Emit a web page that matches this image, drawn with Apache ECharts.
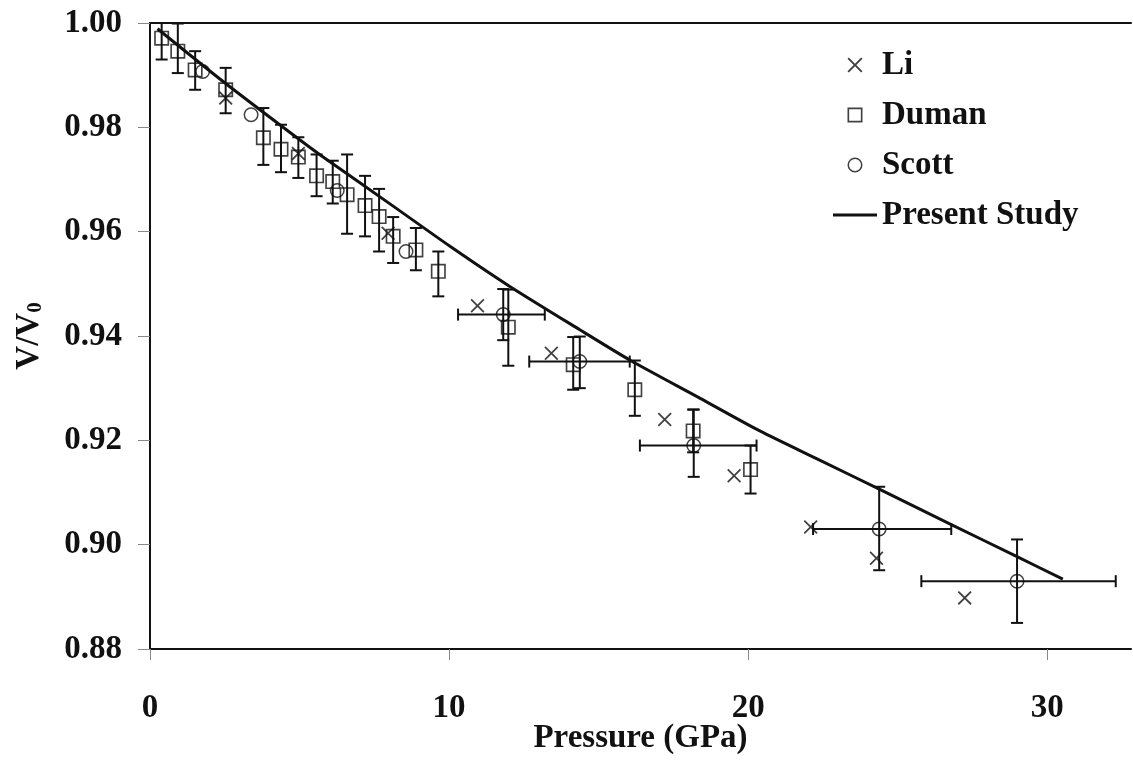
<!DOCTYPE html>
<html>
<head>
<meta charset="utf-8">
<title>V/V0 vs Pressure</title>
<script src="https://cdn.jsdelivr.net/npm/echarts@6/dist/echarts.min.js"></script>
<style>
  html, body { margin: 0; padding: 0; background: #fff; }
  #chart { width: 1133px; height: 776px; }
</style>
</head>
<body>
<div id="chart"></div>
<script>
// Li: pressure (GPa) and V/V0
const liP = [2.53, 4.96, 7.96, 10.95, 13.42, 17.21, 19.53, 22.09, 24.29, 27.24];
const liV = [0.9856, 0.9750, 0.9597, 0.9458, 0.9367, 0.9240, 0.9132, 0.9034, 0.8974, 0.8898];

// Duman: pressure, V/V0 and the lower / upper ends of each V/V0 error bar
const dumanP  = [0.39, 0.93, 1.51, 2.53, 3.79, 4.38, 4.96, 5.57, 6.11, 6.59, 7.19, 7.66, 8.13, 8.89, 9.64, 11.98, 14.15, 16.21, 18.16, 20.08];
const dumanV  = [0.9971, 0.9946, 0.9910, 0.9872, 0.9780, 0.9758, 0.9743, 0.9707, 0.9696, 0.9671, 0.9650, 0.9629, 0.9591, 0.9565, 0.9524, 0.9417, 0.9345, 0.9297, 0.9218, 0.9144];
const dumanLo = [0.9930, 0.9904, 0.9872, 0.9827, 0.9728, 0.9714, 0.9703, 0.9668, 0.9654, 0.9596, 0.9591, 0.9562, 0.9540, 0.9526, 0.9476, 0.9343, 0.9297, 0.9247, 0.9177, 0.9098];
const dumanHi = [1.0000, 0.9999, 0.9946, 0.9914, 0.9837, 0.9805, 0.9781, 0.9748, 0.9736, 0.9748, 0.9707, 0.9682, 0.9628, 0.9607, 0.9562, 0.9489, 0.9398, 0.9353, 0.9259, 0.9190];

// Scott: pressure, V/V0; error ranges only where measured (null = none)
const scottP    = [1.76, 3.38, 6.26, 8.56, 11.81, 14.37, 18.18, 24.38, 28.99];
const scottV    = [0.9907, 0.9824, 0.9679, 0.9562, 0.9441, 0.9351, 0.9190, 0.9030, 0.8930];
const scottPLo  = [null, null, null, null, 10.30, 12.68, 16.38, 22.17, 25.79];
const scottPHi  = [null, null, null, null, 13.20, 16.04, 20.28, 26.79, 32.29];
const scottVLo  = [null, null, null, null, 0.9392, 0.9300, 0.9130, 0.8951, 0.8850];
const scottVHi  = [null, null, null, null, 0.9490, 0.9399, 0.9259, 0.9111, 0.9010];

// Present study: computed compression curve
const studyP = [0.25, 2.53, 4.96, 5.74, 8.13, 10.03, 12.03, 14.37, 16.04, 18.38, 20.39, 22.39, 24.40, 26.74, 28.99, 30.52];
const studyV = [0.9989, 0.9884, 0.9778, 0.9745, 0.9649, 0.9572, 0.9495, 0.9412, 0.9354, 0.9281, 0.9218, 0.9162, 0.9106, 0.9040, 0.8977, 0.8934];

// Axis ticks
const xTicks = [0, 10, 20, 30];
const yTicks = [0.88, 0.90, 0.92, 0.94, 0.96, 0.98, 1.00];

const FONT = '"Liberation Serif", "Times New Roman", serif';
const INK = '#111';

const zip = (a, b) => a.map((v, i) => [v, b[i]]);

// Symbols drawn as filled outlines so they keep their shape in the legend
const SYM_CROSS = 'path://M0,9L9,0L50,41L91,0L100,9L59,50L100,91L91,100L50,59L9,100L0,91L41,50Z';
const SYM_SQUARE = 'path://M0,0H100V100H0Z M11,11V89H89V11Z';
const SYM_CIRCLE = 'path://M50,0A50,50 0 1,1 50,100A50,50 0 1,1 50,0Z M50,10A40,40 0 1,0 50,90A40,40 0 1,0 50,10Z';
const SYM_BAR = 'path://M0,0H100V7H0Z';

// Vertical error bars: [x, low, high]
const vBars = [];
dumanP.forEach((p, i) => vBars.push([p, dumanLo[i], dumanHi[i]]));
scottP.forEach((p, i) => { if (scottVLo[i] != null) vBars.push([p, scottVLo[i], scottVHi[i]]); });

// Horizontal error bars: [y, low, high]
const hBars = [];
scottV.forEach((v, i) => { if (scottPLo[i] != null) hBars.push([v, scottPLo[i], scottPHi[i]]); });

const BAR_STYLE = { stroke: INK, lineWidth: 2 };
const CAP = 6;

function renderVBar(params, api) {
  const x = api.value(0);
  const lo = api.coord([x, api.value(1)]);
  const hi = api.coord([x, api.value(2)]);
  return {
    type: 'group',
    children: [
      { type: 'line', shape: { x1: lo[0], y1: lo[1], x2: hi[0], y2: hi[1] }, style: BAR_STYLE },
      { type: 'line', shape: { x1: lo[0] - CAP, y1: lo[1], x2: lo[0] + CAP, y2: lo[1] }, style: BAR_STYLE },
      { type: 'line', shape: { x1: hi[0] - CAP, y1: hi[1], x2: hi[0] + CAP, y2: hi[1] }, style: BAR_STYLE }
    ]
  };
}

function renderHBar(params, api) {
  const y = api.value(0);
  const lo = api.coord([api.value(1), y]);
  const hi = api.coord([api.value(2), y]);
  return {
    type: 'group',
    children: [
      { type: 'line', shape: { x1: lo[0], y1: lo[1], x2: hi[0], y2: hi[1] }, style: BAR_STYLE },
      { type: 'line', shape: { x1: lo[0], y1: lo[1] - CAP, x2: lo[0], y2: lo[1] + CAP }, style: BAR_STYLE },
      { type: 'line', shape: { x1: hi[0], y1: hi[1] - CAP, x2: hi[0], y2: hi[1] + CAP }, style: BAR_STYLE }
    ]
  };
}

const labelStyle = { fontFamily: FONT, fontWeight: 'bold', fontSize: 33, color: INK };

const chart = echarts.init(document.getElementById('chart'), null, { renderer: 'canvas' });

chart.setOption({
  backgroundColor: '#fff',
  animation: false,
  grid: { left: 150, right: 2, top: 23, bottom: 127 },
  legend: {
    orient: 'vertical',
    left: 828,
    top: 42,
    itemWidth: 44,
    itemHeight: 15,
    itemGap: 14,
    symbolKeepAspect: true,
    data: ['Li', 'Duman', 'Scott', { name: 'Present Study', icon: SYM_BAR }],
    textStyle: { fontFamily: FONT, fontWeight: 'bold', fontSize: 33, color: INK, lineHeight: 36 }
  },
  xAxis: [{
    type: 'value',
    min: 0,
    max: 32.8,
    interval: 10,
    name: 'Pressure (GPa)',
    nameLocation: 'middle',
    nameGap: 73,
    nameMoveOverlap: false,
    nameTextStyle: labelStyle,
    axisLine: { show: true, onZero: false, lineStyle: { color: INK, width: 2 } },
    axisTick: { show: true, length: 11, customValues: xTicks, lineStyle: { color: '#888', width: 1 } },
    axisLabel: Object.assign({ margin: 43, customValues: xTicks }, labelStyle),
    splitLine: { show: false }
  }, {
    // top frame line
    type: 'value',
    position: 'top',
    min: 0,
    max: 32.8,
    axisLine: { show: true, lineStyle: { color: INK, width: 2 } },
    axisTick: { show: false },
    axisLabel: { show: false },
    splitLine: { show: false }
  }],
  yAxis: {
    type: 'value',
    min: 0.88,
    max: 1.00,
    interval: 0.02,
    name: 'V/V{sub|0}',
    nameLocation: 'middle',
    nameGap: 104,
    nameMoveOverlap: false,
    nameTextStyle: Object.assign({
      rich: {
        sub: { fontFamily: FONT, fontWeight: 'bold', fontSize: 21, color: INK, verticalAlign: 'bottom', lineHeight: 21 }
      }
    }, labelStyle),
    axisLine: { show: true, onZero: false, lineStyle: { color: INK, width: 2 } },
    axisTick: { show: true, length: 12, customValues: yTicks, lineStyle: { color: '#888', width: 1 } },
    axisLabel: Object.assign({ margin: 28, customValues: yTicks, formatter: v => v.toFixed(2) }, labelStyle),
    splitLine: { show: false }
  },
  series: [
    {
      name: 'Vertical error',
      type: 'custom',
      renderItem: renderVBar,
      data: vBars,
      encode: { x: 0, y: [1, 2] },
      z: 2,
      silent: true
    },
    {
      name: 'Horizontal error',
      type: 'custom',
      renderItem: renderHBar,
      data: hBars,
      encode: { y: 0, x: [1, 2] },
      z: 2,
      silent: true
    },
    {
      name: 'Li',
      type: 'scatter',
      symbol: SYM_CROSS,
      symbolSize: 14,
      symbolKeepAspect: true,
      itemStyle: { color: INK },
      data: zip(liP, liV),
      z: 3
    },
    {
      name: 'Duman',
      type: 'scatter',
      symbol: SYM_SQUARE,
      symbolSize: 15,
      symbolKeepAspect: true,
      itemStyle: { color: INK },
      data: zip(dumanP, dumanV),
      z: 3
    },
    {
      name: 'Scott',
      type: 'scatter',
      symbol: SYM_CIRCLE,
      symbolSize: 15,
      symbolKeepAspect: true,
      itemStyle: { color: INK },
      data: zip(scottP, scottV),
      z: 3
    },
    {
      name: 'Present Study',
      type: 'line',
      smooth: 0.25,
      showSymbol: false,
      symbol: 'none',
      lineStyle: { color: INK, width: 3 },
      itemStyle: { color: INK },
      data: zip(studyP, studyV),
      z: 4
    }
  ]
});
</script>
</body>
</html>
